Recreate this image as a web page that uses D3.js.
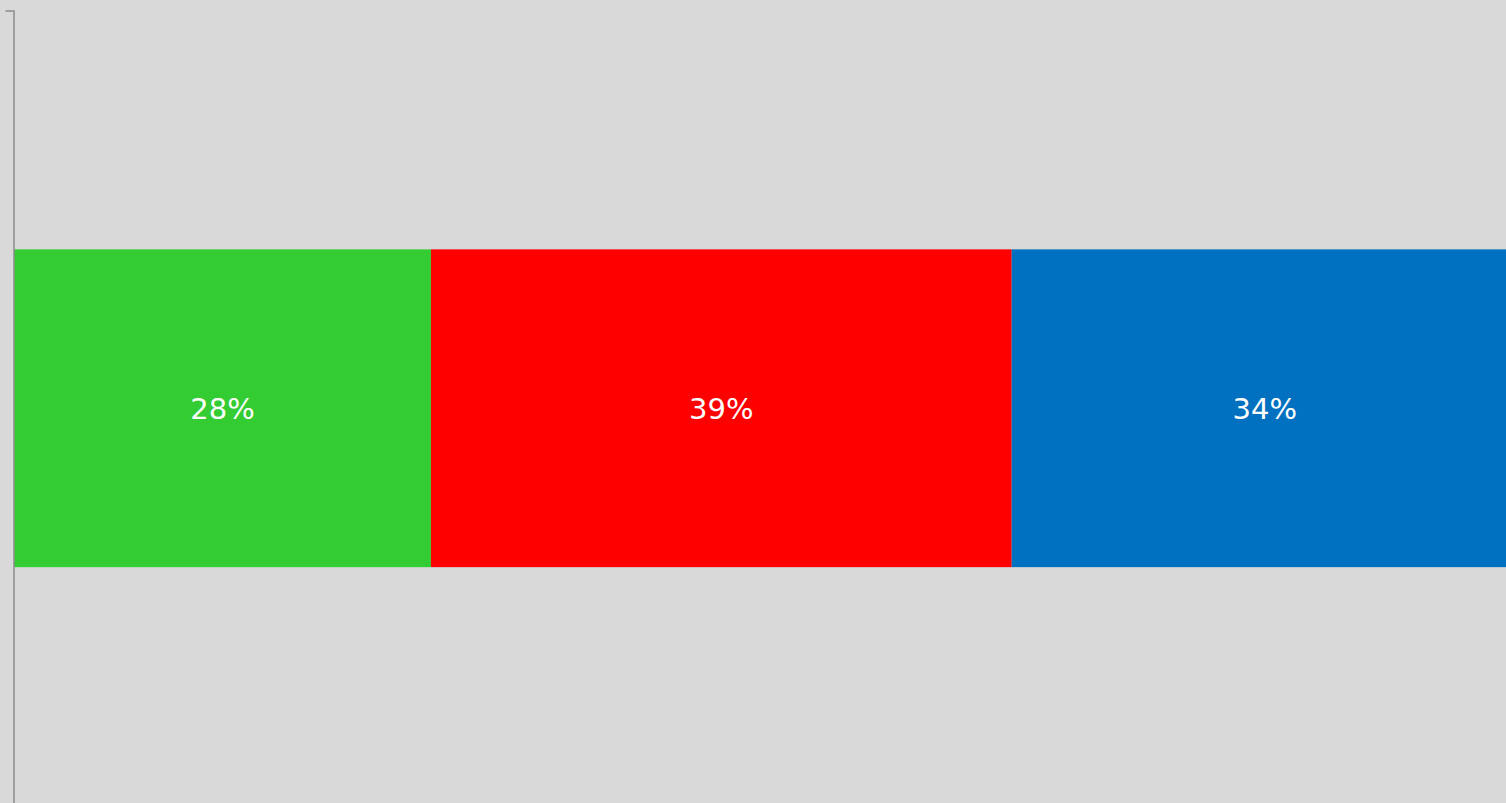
<!DOCTYPE html>
<html>
<head>
<meta charset="utf-8">
<script src="https://cdn.jsdelivr.net/npm/d3@7"></script>
<style>
  body { margin: 0; background: #d9d9d9; overflow: hidden; }
  svg { display: block; }
</style>
</head>
<body>
<script>
// Chart data
var categories = ["Total"];
var seriesNames = ["Green", "Red", "Blue"];
var seriesValues = [28, 39, 34];
var seriesColors = ["#33cc33", "#ff0000", "#0070c0"];

var width = 1506, height = 803;

var svg = d3.select("body").append("svg")
    .attr("width", width)
    .attr("height", height);

svg.append("rect")
    .attr("width", width)
    .attr("height", height)
    .attr("fill", "#d9d9d9");

// stack the series along x
var stacked = [], acc = 0;
seriesValues.forEach(function(v, i){
  stacked.push({name: seriesNames[i], start: acc, end: acc + v, value: v, color: seriesColors[i]});
  acc += v;
});

var xScale = d3.scaleLinear()
    .domain([0, acc])
    .range([14, 1518]);

var yScale = d3.scaleBand()
    .domain(categories)
    .range([10.5, 806])
    .paddingInner(0)
    .paddingOuter(0.7516);

var bars = svg.append("g");

bars.selectAll("rect")
    .data(stacked)
    .enter().append("rect")
    .attr("x", function(d){ return xScale(d.start); })
    .attr("y", yScale(categories[0]))
    .attr("width", function(d){ return xScale(d.end) - xScale(d.start); })
    .attr("height", yScale.bandwidth())
    .attr("fill", function(d){ return d.color; });

// labels centred on the whole segment (last one runs past the edge)
bars.selectAll("text")
    .data(stacked)
    .enter().append("text")
    .attr("x", function(d){ return (xScale(d.start) + xScale(d.end)) / 2; })
    .attr("y", yScale(categories[0]) + yScale.bandwidth() / 2 + 3)
    .attr("text-anchor", "middle")
    .attr("dominant-baseline", "middle")
    .attr("fill", "white")
    .style("font-family", "'DejaVu Sans', sans-serif")
    .style("font-size", "29px")
    .text(function(d){ return d.value + "%"; });

// y axis
var yAxis = d3.axisLeft(yScale).tickSizeInner(0).tickSizeOuter(8).tickFormat("");

var yAxisGroup = svg.append("g")
    .attr("transform", "translate(13.5,0)")
    .call(yAxis);

yAxisGroup.select(".domain")
    .attr("stroke", "#8c8c8c")
    .attr("stroke-width", 1.5);
yAxisGroup.selectAll(".tick").remove();
</script>
</body>
</html>
